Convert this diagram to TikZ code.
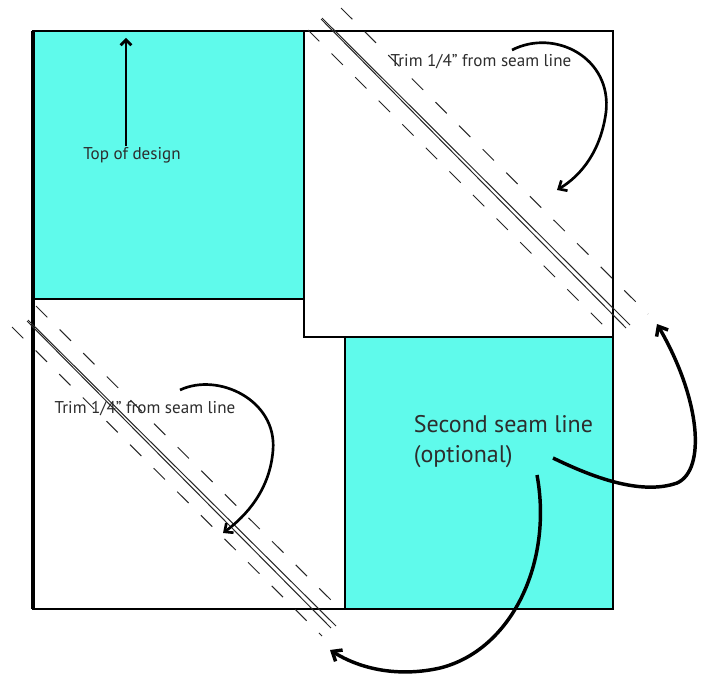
\documentclass[tikz,border=0pt]{standalone}
\usepackage{fontspec}
\setmainfont{PT Sans}
\usetikzlibrary{arrows.meta}
\definecolor{quiltcyan}{RGB}{95,250,235}
\definecolor{txtgray}{RGB}{45,45,45}
\begin{document}
\begin{tikzpicture}[x=0.75pt,y=-0.75pt,
  patch/.style={draw=black,line width=1pt},
  outerframe/.style={draw=black,line width=1.7pt},
  seamline/.style={draw=black!85,line width=0.75pt},
  cutline/.style={draw=black!85,line width=0.75pt,dash pattern=on 12pt off 13pt},
  lbl/.style={text=txtgray,inner sep=0.5pt,font=\fontsize{12.8pt}{15pt}\selectfont},
  biglbl/.style={text=txtgray,inner sep=0.5pt,align=left,font=\fontsize{18pt}{23pt}\selectfont},
  curvearrow/.style={draw=black,line width=2pt,-{Straight Barb[length=5pt,width=9pt]}},
  bigarrow/.style={draw=black,line width=2.6pt,-{Straight Barb[length=6pt,width=10pt]}}
]
\useasboundingbox (0,0) rectangle (705,677);
% patches (bottom-left lies under top-right)
\fill[white] (33,299) rectangle (345,609);
\draw[patch] (33,299) rectangle (345,609);
\fill[white] (304,31) rectangle (613,337);
\draw[patch] (304,31) rectangle (613,337);
\fill[quiltcyan] (33,31) rectangle (304,299);
\draw[patch] (33,31) rectangle (304,299);
\fill[quiltcyan] (345,337) rectangle (613,609);
\draw[patch] (345,337) rectangle (613,609);
\draw[outerframe] (33,31) rectangle (613,609);
\draw[draw=black,line width=2.4pt] (33,31) -- (33,609);
% top-right seams
\draw[seamline] (322,18) -- (630,325);
\draw[seamline] (321,19) -- (626,328);
\draw[cutline] (341,8) -- (648,314);
\draw[cutline] (308,30) -- (613,335);
% bottom-left seams
\draw[seamline] (28,320) -- (336,626);
\draw[seamline] (27,321) -- (331,628);
\draw[cutline] (36,306) -- (340,609);
\draw[cutline] (12,327) -- (322,636);
% labels
\node[lbl] (topdesign) at (132,155) {Top of design};
\node[lbl] (trimA) at (481,62) {Trim 1/4” from seam line};
\node[lbl] (trimB) at (145,409) {Trim 1/4” from seam line};
\node[biglbl,anchor=north west] (second) at (413,414) {Second seam line\\(optional)};
% arrow endpoints
\coordinate (topend) at (126,38);
\coordinate (aS) at (512,50);
\coordinate (aE) at (557,190);
\coordinate (bS) at (180,390);
\coordinate (bE) at (223,533);
\coordinate (cS) at (553,458);
\coordinate (cE) at (657,324);
\coordinate (dS) at (537,475);
\coordinate (dE) at (330,650);
% arrows
\draw[line width=2pt,-{Straight Barb[length=4pt,width=8pt]}] (topdesign.north -| topend) -- (topend);
\draw[curvearrow] (aS) .. controls (555,28) and (612,58) .. (606,112) .. controls (601,150) and (582,175) .. (aE);
\draw[curvearrow] (bS) .. controls (218,372) and (277,400) .. (273,450) .. controls (270,490) and (246,516) .. (bE);
\draw[bigarrow] (cS) .. controls (590,476) and (640,496) .. (677,483) .. controls (706,470) and (701,400) .. (cE);
\draw[bigarrow] (dS) .. controls (553,562) and (512,650) .. (440,668) .. controls (400,677) and (362,670) .. (dE);
\end{tikzpicture}
\end{document}
